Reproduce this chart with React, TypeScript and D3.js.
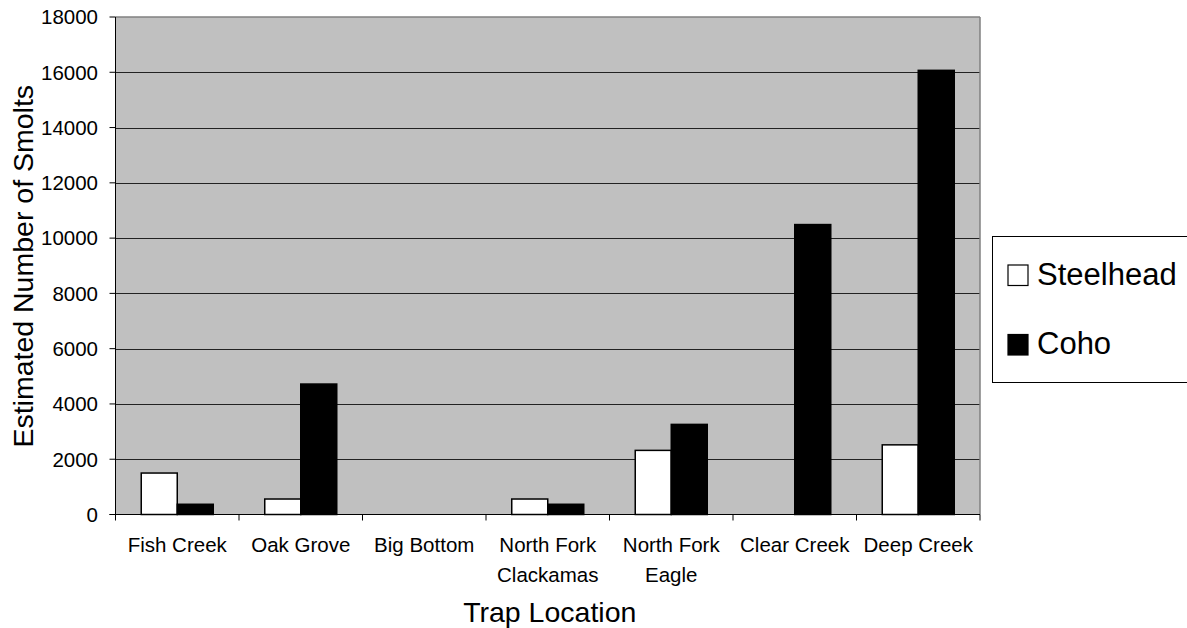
import React from "react";
import * as d3 from "d3";

const categories: string[][] = [
  ["Fish Creek"],
  ["Oak Grove"],
  ["Big Bottom"],
  ["North Fork", "Clackamas"],
  ["North Fork", "Eagle"],
  ["Clear Creek"],
  ["Deep Creek"],
];
const seriesNames = ["Steelhead", "Coho"];
const steelhead = [1500, 560, 0, 560, 2320, 0, 2520];
const coho = [370, 4720, 0, 370, 3260, 10490, 16070];
const yTicks = [0, 2000, 4000, 6000, 8000, 10000, 12000, 14000, 16000, 18000];
const seriesFill = ["#ffffff", "#000000"];

const W = 1187;
const H = 628;
const L = 115.5;
const R = 980;
const T = 17;
const B = 514.5;
const FONT = "'Liberation Sans', Arial, Helvetica, sans-serif";

export default function App() {
  const keys = categories.map((c) => c.join(" "));
  const x0 = d3.scaleBand<string>().domain(keys).range([L, R]).padding(0);
  const x1 = d3
    .scaleBand<string>()
    .domain(seriesNames)
    .range([0, x0.bandwidth()])
    .paddingInner(0)
    .paddingOuter(0.715);
  const y = d3.scaleLinear().domain([0, 18000]).range([B, T]);
  const data = [steelhead, coho];

  return (
    <svg
      width={W}
      height={H}
      style={{ position: "absolute", left: 0, top: 0, background: "#fff" }}
      fontFamily={FONT}
    >
      <rect x={L} y={T} width={R - L} height={B - T} fill="#c0c0c0" />
      {yTicks.slice(1, -1).map((t) => (
        <line key={t} x1={L} x2={R} y1={Math.round(y(t)) + 0.5} y2={Math.round(y(t)) + 0.5} stroke="#222" strokeWidth={1} />
      ))}
      {/* top & right border */}
      <line x1={L} x2={R} y1={T} y2={T} stroke="#808080" strokeWidth={1.5} />
      <line x1={R} x2={R} y1={T} y2={B} stroke="#808080" strokeWidth={1.5} />
      {/* bars */}
      {data.map((vals, si) =>
        vals.map((v, ci) =>
          v > 0 ? (
            <rect
              key={`${si}-${ci}`}
              x={(x0(keys[ci]) as number) + (x1(seriesNames[si]) as number)}
              y={y(v)}
              width={x1.bandwidth()}
              height={B - y(v)}
              fill={seriesFill[si]}
              stroke="#000"
              strokeWidth={1.5}
            />
          ) : null
        )
      )}
      {/* axes */}
      <line x1={L} x2={L} y1={T} y2={B} stroke="#000" strokeWidth={1} />
      <line x1={L - 6} x2={R} y1={B} y2={B} stroke="#000" strokeWidth={1} />
      {yTicks.map((t) => (
        <g key={t}>
          <line x1={L - 6} x2={L} y1={y(t)} y2={y(t)} stroke="#000" strokeWidth={1} />
          <text x={98} y={y(t) + 7.3} textAnchor="end" fontSize={20.5} fill="#000">
            {t}
          </text>
        </g>
      ))}
      {keys.map((k, i) => (
        <line key={k} x1={x0(k)} x2={x0(k)} y1={B} y2={B + 6} stroke="#000" strokeWidth={1} />
      ))}
      <line x1={R} x2={R} y1={B} y2={B + 6} stroke="#000" strokeWidth={1} />
      {categories.map((lines, i) => (
        <text
          key={keys[i]}
          x={(x0(keys[i]) as number) + x0.bandwidth() / 2}
          y={552}
          textAnchor="middle"
          fontSize={20.5}
          fill="#000"
        >
          {lines.map((ln, j) => (
            <tspan key={j} x={(x0(keys[i]) as number) + x0.bandwidth() / 2} dy={j === 0 ? 0 : 30}>
              {ln}
            </tspan>
          ))}
        </text>
      ))}
      <text x={(L + R) / 2 + 2} y={621.5} textAnchor="middle" fontSize={28.5} fill="#000">
        Trap Location
      </text>
      <text
        transform={`translate(33, ${(T + B) / 2 + 0.5}) rotate(-90)`}
        textAnchor="middle"
        fontSize={28.5}
        fill="#000"
      >
        Estimated Number of Smolts
      </text>
      {/* legend */}
      <rect x={992.5} y={236.5} width={210} height={146} fill="#fff" stroke="#000" strokeWidth={1} />
      {seriesNames.map((s, i) => (
        <g key={s}>
          <rect x={1008} y={265 + i * 69.5} width={20} height={20.5} fill={seriesFill[i]} stroke="#000" strokeWidth={1.2} />
          <text x={1037} y={285.3 + i * 68.3} fontSize={31} fill="#000">
            {s}
          </text>
        </g>
      ))}
    </svg>
  );
}
